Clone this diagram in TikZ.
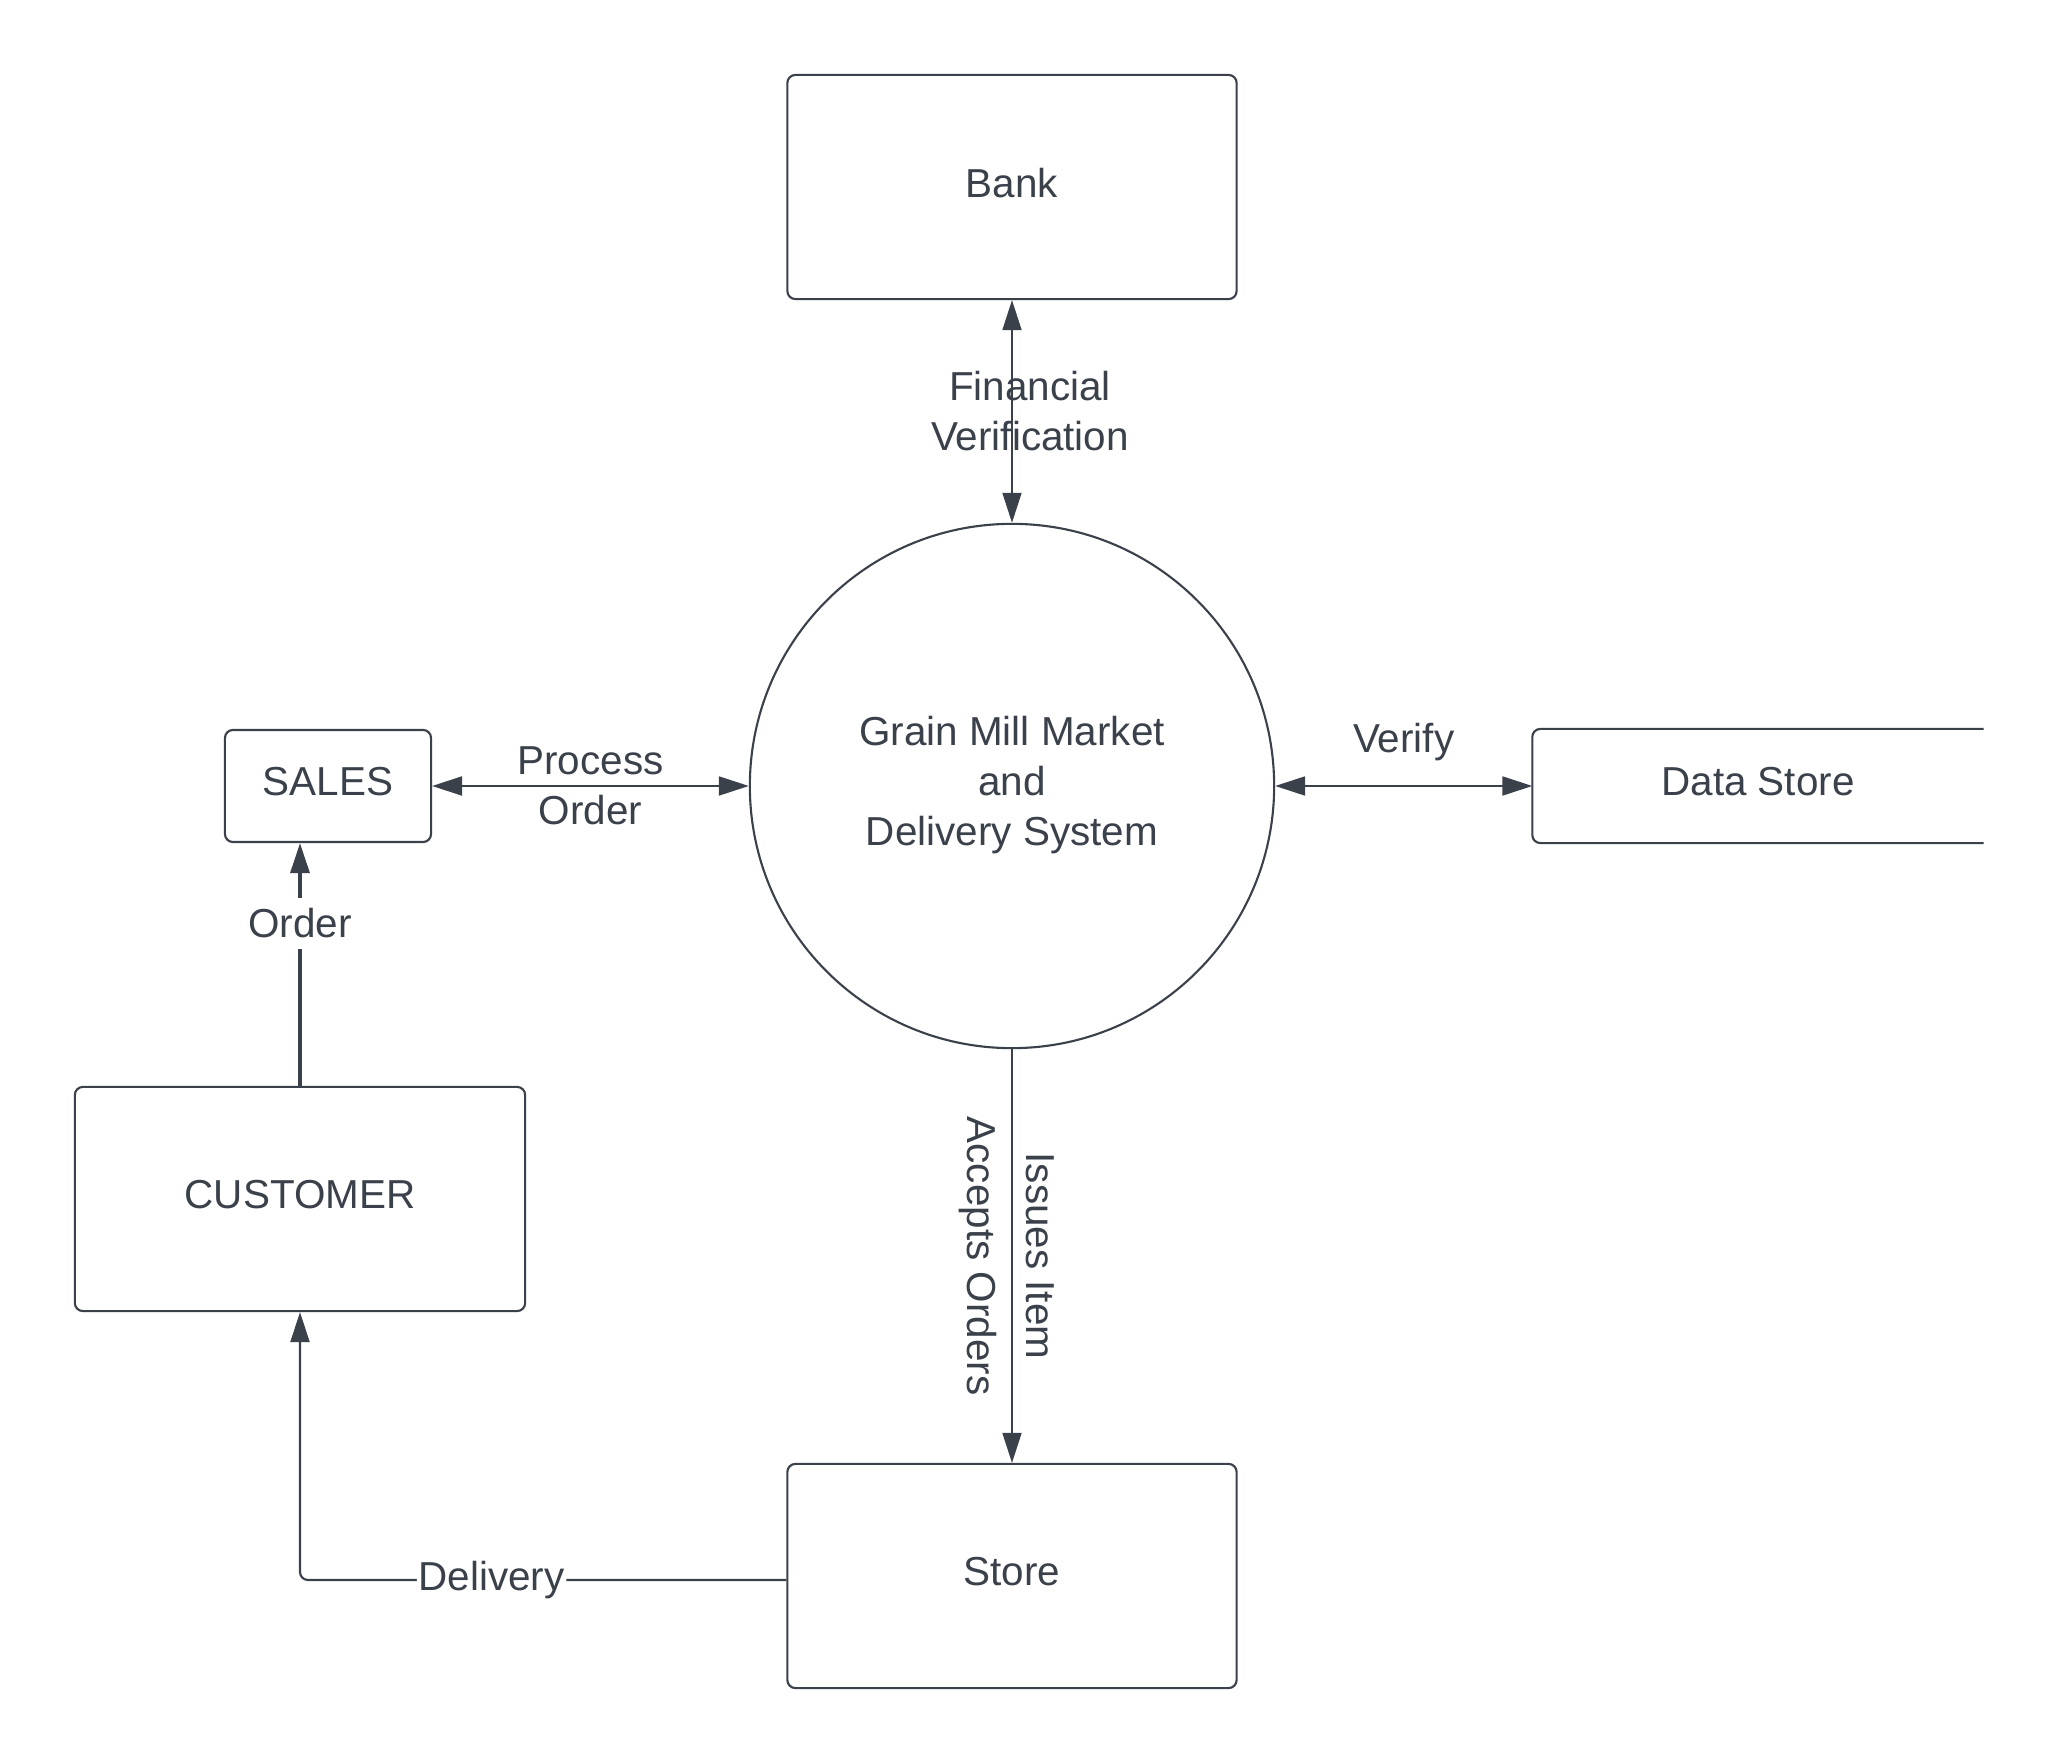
\documentclass[tikz,border=0pt]{standalone}
\usepackage{fontspec}
\setmainfont{Liberation Sans}
\usepackage{xcolor}
\usepackage{tikz}
\usetikzlibrary{positioning, arrows.meta}
\definecolor{ink}{HTML}{3A414A}

\begin{document}
\begin{tikzpicture}[
    x=0.01cm, y=-0.01cm,
    every node/.style={font=\fontsize{11.5}{14.2}\selectfont, text=ink},
    box/.style={rectangle, draw=ink, line width=0.6pt, rounded corners=0.08cm, minimum width=#1, minimum height=2.24cm, align=center, text depth=0.25em},
    box/.default=4.49cm,
    proc/.style={circle, draw=ink, line width=0.6pt, minimum size=5.24cm, inner sep=0pt, align=center, text depth=0.3em},
    arr/.style={draw=ink, line width=0.6pt, -{Triangle[length=0.3cm, width=0.19cm]}},
    dbl/.style={draw=ink, line width=0.6pt, {Triangle[length=0.3cm, width=0.19cm]}-{Triangle[length=0.3cm, width=0.19cm]}},
    lbl/.style={align=center, inner sep=1pt},
]
    \useasboundingbox (0,0) rectangle (2059,1764);

    % entities and process
    \node[box] (bank) at (1012,187) {Bank};
    \node[proc] (sys) at (1012,786) {Grain Mill Market\\and\\Delivery System};
    \node[box=2.06cm, minimum height=1.12cm] (sales) at (328,786) {SALES};
    \node[box, minimum height=1.12cm, draw=none] (data) at (1758,786) {Data Store};
    \node[box=4.50cm] (cust) at (300,1199) {CUSTOMER};
    \node[box] (store) at (1012,1576) {Store};

    % data store is open on the right
    \draw[ink, line width=0.6pt, rounded corners=0.08cm] (data.north east) -- (data.north west) -- (data.south west) -- (data.south east);

    \draw[dbl, line width=0.5pt] (sys) -- (bank) node[lbl, midway, xshift=0.18cm] {Financial\\Verification};
    \draw[dbl] (sales) -- (sys) node[lbl, midway] {Process\\Order};
    \draw[dbl] (sys) -- (data.west) node[lbl, midway, above=0.21cm] {Verify};
    \draw[arr, line width=0.9pt] (cust.north) -- (cust.north |- sales.south) node[lbl, pos=0.67, fill=white, inner sep=3pt] {Order};
    \draw[arr, line width=0.5pt] (sys) -- (store);
    \path (sys.south) -- (store.north)
        node[lbl, midway, xshift=-0.34cm, rotate=-90] {Accepts Orders}
        node[lbl, midway, xshift=0.28cm, rotate=-90] {Issues Item};
    \draw[arr, rounded corners=0.08cm] ([yshift=-0.04cm]store.west) -| (cust.south) node[lbl, pos=0.303, fill=white, inner sep=0.5pt] {Delivery};
\end{tikzpicture}
\end{document}
